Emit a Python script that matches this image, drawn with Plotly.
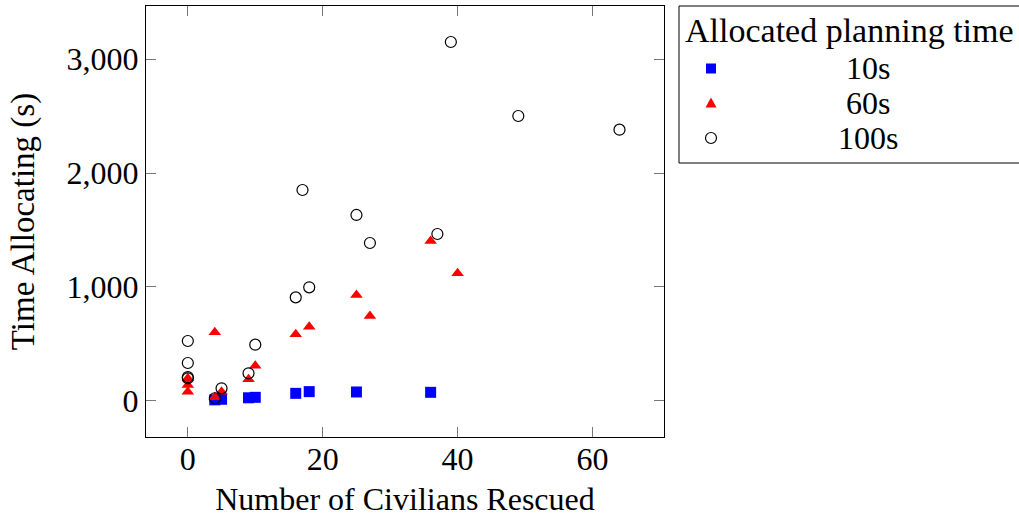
import plotly.graph_objects as go

# 10s allocated planning time
x10 = [4, 5, 9, 10, 16, 18, 25, 36]
y10 = [10, 15, 28, 32, 67, 82, 79, 76]

# 60s allocated planning time
x60 = [0, 0, 0, 4, 4, 5, 9, 10, 16, 18, 25, 27, 36, 40]
y60 = [200, 140, 80, 602, 32, 82, 190, 310, 585, 652, 930, 746, 1404, 1120]

# 100s allocated planning time
x100 = [0, 0, 0, 0, 4, 5, 9, 10, 16, 17, 18, 25, 27, 37, 39, 49, 64]
y100 = [526, 333, 210, 199, 24, 111, 243, 494, 909, 1851, 997, 1632, 1386, 1465, 3149, 2500, 2380]

names = ["10s", "60s", "100s"]
legend_title = "Allocated planning time"
xticks = [0, 20, 40, 60]
yticks = [0, 1000, 2000, 3000]

FONT = "Liberation Serif"

# plot area in pixels
L, R, T, B = 146, 664, 6, 437
W, H = 1019, 517


def px(xp):
    return (xp - L) / (R - L)


def py(yp):
    return (B - yp) / (B - T)


fig = go.Figure()
fig.add_trace(go.Scatter(x=x10, y=y10, mode="markers", name=names[0], showlegend=False,
                         marker=dict(symbol="square", size=11, color="#0000ff",
                                     line=dict(width=0))))
fig.add_trace(go.Scatter(x=x60, y=y60, mode="markers", name=names[1], showlegend=False,
                         marker=dict(symbol="triangle-up", size=11, color="#ff0000",
                                     line=dict(width=0))))
fig.add_trace(go.Scatter(x=x100, y=y100, mode="markers", name=names[2], showlegend=False,
                         marker=dict(symbol="circle-open", size=11, color="black",
                                     line=dict(width=1.2, color="black"))))

axis_common = dict(showgrid=False, zeroline=False, showline=True, linecolor="black",
                   linewidth=1, mirror="ticks", ticks="inside", ticklen=10,
                   tickcolor="#777", tickwidth=1,
                   tickfont=dict(family=FONT, size=32, color="black"))

fig.update_xaxes(range=[-6.2, 70.6], tickvals=xticks, ticklabelstandoff=-6,
                 title=dict(text="Number of Civilians Rescued",
                            font=dict(family=FONT, size=32, color="black"), standoff=12),
                 **axis_common)
fig.update_yaxes(range=[-316, 3465], tickvals=yticks, tickformat=",",
                 title=dict(text="Time Allocating (s)",
                            font=dict(family=FONT, size=33, color="black"), standoff=22),
                 **axis_common)

# manual legend (pgfplots style)
shapes = [dict(type="rect", xref="paper", yref="paper",
               x0=px(679), x1=px(1024), y0=py(163), y1=py(6),
               line=dict(color="black", width=1), fillcolor="white", layer="above")]
sym_x = px(711)
row_y = [68.5, 103, 138]
# square
shapes.append(dict(type="rect", xref="paper", yref="paper", xsizemode="pixel",
                   ysizemode="pixel", xanchor=sym_x, yanchor=py(row_y[0]),
                   x0=-5, x1=5, y0=-5, y1=5, fillcolor="#0000ff", line=dict(width=0)))
# triangle
shapes.append(dict(type="path", xref="paper", yref="paper", xsizemode="pixel",
                   ysizemode="pixel", xanchor=sym_x, yanchor=py(row_y[1]),
                   path="M -5.5 -4.5 L 5.5 -4.5 L 0 5.5 Z", fillcolor="#ff0000",
                   line=dict(width=0)))
# circle
shapes.append(dict(type="circle", xref="paper", yref="paper", xsizemode="pixel",
                   ysizemode="pixel", xanchor=sym_x, yanchor=py(row_y[2]),
                   x0=-5.5, x1=5.5, y0=-5.5, y1=5.5, line=dict(color="black", width=1.2)))

annotations = [dict(text=legend_title, xref="paper", yref="paper", x=px(849), y=py(31),
                    xanchor="center", yanchor="middle", showarrow=False,
                    font=dict(family=FONT, size=34, color="black"))]
for name, ry in zip(names, row_y):
    annotations.append(dict(text=name, xref="paper", yref="paper", x=px(868), y=py(ry),
                            xanchor="center", yanchor="middle", showarrow=False,
                            font=dict(family=FONT, size=32, color="black")))

fig.update_layout(
    width=W, height=H,
    margin=dict(l=L, r=W - R, t=T, b=H - B, autoexpand=False),
    plot_bgcolor="white", paper_bgcolor="white",
    font=dict(family=FONT, size=32, color="black"),
    showlegend=False,
    shapes=shapes, annotations=annotations,
)

fig.write_html("out.html")
